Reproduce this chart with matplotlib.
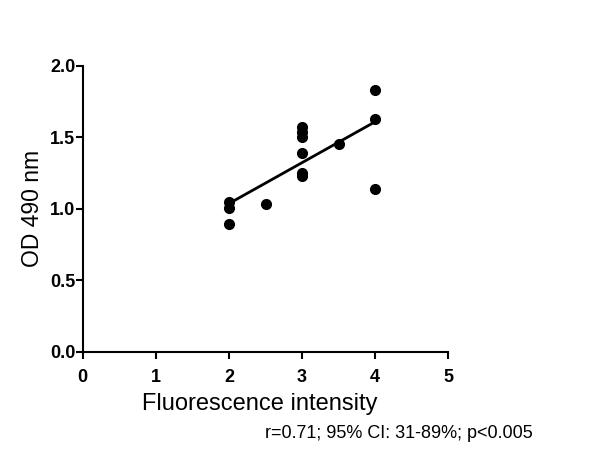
import numpy as np
import matplotlib
matplotlib.use("Agg")
from matplotlib import pyplot as plt

# data
fluorescence = [2, 2, 2, 2.5, 3, 3, 3, 3, 3, 3, 3.5, 4, 4, 4]
od490 = [1.05, 1.005, 0.895, 1.035, 1.57, 1.54, 1.50, 1.39, 1.25, 1.23, 1.45, 1.83, 1.63, 1.14]
xticks = [0, 1, 2, 3, 4, 5]
yticks = [0.0, 0.5, 1.0, 1.5, 2.0]
stats_text = "r=0.71; 95% CI: 31-89%; p<0.005"

plt.rcParams['font.family'] = ['Liberation Sans', 'DejaVu Sans']

fig = plt.figure(figsize=(6, 4.5), dpi=100)
ax = fig.add_axes([0.138, 0.218, 0.609, 0.636])

x = np.array(fluorescence)
y = np.array(od490)
ax.plot(x, y, 'o', color='black', markersize=7, clip_on=False, zorder=3)

# linear fit over the data range
slope, icpt = np.polyfit(x, y, 1)
xf = np.array([x.min(), x.max()])
ax.plot(xf, slope * xf + icpt, color='black', lw=2)

ax.set_xlim(0, 5)
ax.set_ylim(0, 2)
ax.set_xticks(xticks)
ax.set_yticks(yticks)
ax.set_yticklabels(["%.1f" % v for v in yticks])
for lab in ax.get_xticklabels() + ax.get_yticklabels():
    lab.set_fontweight('bold')
    lab.set_fontsize(13)
ax.tick_params(direction='out', length=5, width=1.5)
ax.tick_params(axis='x', pad=7)
ax.tick_params(axis='y', pad=0.5)

for s in ['top', 'right']:
    ax.spines[s].set_visible(False)
for s in ['left', 'bottom']:
    ax.spines[s].set_linewidth(1.5)

ax.set_xlabel('Fluorescence intensity', fontsize=17, labelpad=5)
ax.xaxis.label.set_x(0.485)
ax.set_ylabel('OD 490 nm', fontsize=16.5, labelpad=4)

fig.text(0.442, 0.027, stats_text, fontsize=13)

fig.savefig('out.png', dpi=100)
